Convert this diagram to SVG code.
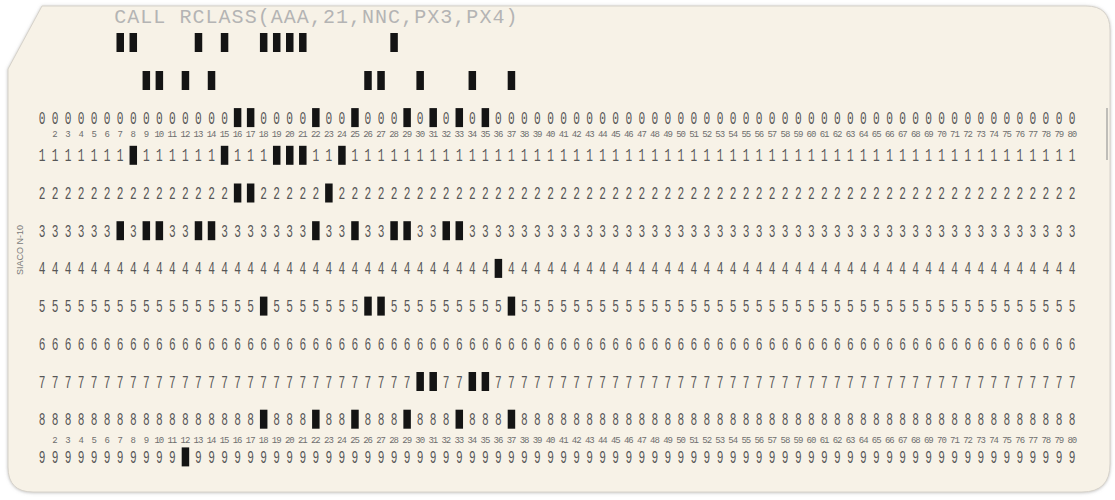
<svg xmlns="http://www.w3.org/2000/svg" width="1115" height="500" viewBox="0 0 1115 500">
<defs>
<style>
.d{font-family:"Liberation Mono","DejaVu Sans Mono",monospace;font-size:18px;letter-spacing:10.232px;fill:#575757;}
.n{font-family:"Liberation Mono","DejaVu Sans Mono",monospace;font-size:9px;letter-spacing:-1.0533px;fill:#6e6e6e;}
.t{font-family:"Liberation Mono","DejaVu Sans Mono",monospace;font-size:20px;letter-spacing:1.04px;fill:#b4b4b4;}
.s{font-family:"Liberation Sans","DejaVu Sans",sans-serif;font-size:9px;fill:#7a7a7a;}
.p{fill:#141414;}
</style>
<filter id="sh" x="-5%" y="-5%" width="110%" height="110%">
<feDropShadow dx="0" dy="0.5" stdDeviation="1.5" flood-color="#8c8c8c" flood-opacity="0.55"/>
</filter>
<rect id="h" class="p" x="-3.75" y="-9.5" width="7.5" height="19"/>
</defs>
<rect width="1115" height="500" fill="#ffffff"/>
<g id="card">
<path d="M42,6 L1086,6 Q1110,6 1110,30 L1110,464 Q1110,492 1082,492 L33,492 Q8,492 8,467 L8,69 Z" fill="#f7f2e7" stroke="#d6d2ca" stroke-width="1" filter="url(#sh)"/>
<rect x="1106" y="108" width="2" height="52" fill="#9a9a9a" opacity="0.6"/>
<text class="s" transform="translate(22.5,250) rotate(-90)" text-anchor="middle">SIACO N-10</text>
</g>
<g id="print-line">
<text class="t" x="114.24" y="23" xml:space="preserve">CALL RCLASS(AAA,21,NNC,PX3,PX4)</text>
</g>
<g id="digit-rows">
<text class="d" xml:space="preserve" transform="translate(0,123.6) scale(0.62,1)" x="62.34"><tspan>0000000000</tspan><tspan>00000  000</tspan><tspan>0 00 000 0</tspan><tspan> 0 0 00000</tspan><tspan>0000000000</tspan><tspan>0000000000</tspan><tspan>0000000000</tspan><tspan>0000000000</tspan></text>
<text class="d" xml:space="preserve" transform="translate(0,161.3) scale(0.62,1)" x="62.34"><tspan>1111111 11</tspan><tspan>1111 111  </tspan><tspan> 11 111111</tspan><tspan>1111111111</tspan><tspan>1111111111</tspan><tspan>1111111111</tspan><tspan>1111111111</tspan><tspan>1111111111</tspan></text>
<text class="d" xml:space="preserve" transform="translate(0,199.0) scale(0.62,1)" x="62.34"><tspan>2222222222</tspan><tspan>22222  222</tspan><tspan>22 2222222</tspan><tspan>2222222222</tspan><tspan>2222222222</tspan><tspan>2222222222</tspan><tspan>2222222222</tspan><tspan>2222222222</tspan></text>
<text class="d" xml:space="preserve" transform="translate(0,236.7) scale(0.62,1)" x="62.34"><tspan>333333 3  </tspan><tspan>33  333333</tspan><tspan>3 33 33  3</tspan><tspan>3  3333333</tspan><tspan>3333333333</tspan><tspan>3333333333</tspan><tspan>3333333333</tspan><tspan>3333333333</tspan></text>
<text class="d" xml:space="preserve" transform="translate(0,274.4) scale(0.62,1)" x="62.34"><tspan>4444444444</tspan><tspan>4444444444</tspan><tspan>4444444444</tspan><tspan>44444 4444</tspan><tspan>4444444444</tspan><tspan>4444444444</tspan><tspan>4444444444</tspan><tspan>4444444444</tspan></text>
<text class="d" xml:space="preserve" transform="translate(0,312.1) scale(0.62,1)" x="62.34"><tspan>5555555555</tspan><tspan>5555555 55</tspan><tspan>55555  555</tspan><tspan>555555 555</tspan><tspan>5555555555</tspan><tspan>5555555555</tspan><tspan>5555555555</tspan><tspan>5555555555</tspan></text>
<text class="d" xml:space="preserve" transform="translate(0,349.8) scale(0.62,1)" x="62.34"><tspan>6666666666</tspan><tspan>6666666666</tspan><tspan>6666666666</tspan><tspan>6666666666</tspan><tspan>6666666666</tspan><tspan>6666666666</tspan><tspan>6666666666</tspan><tspan>6666666666</tspan></text>
<text class="d" xml:space="preserve" transform="translate(0,387.5) scale(0.62,1)" x="62.34"><tspan>7777777777</tspan><tspan>7777777777</tspan><tspan>777777777 </tspan><tspan> 77  77777</tspan><tspan>7777777777</tspan><tspan>7777777777</tspan><tspan>7777777777</tspan><tspan>7777777777</tspan></text>
<text class="d" xml:space="preserve" transform="translate(0,425.2) scale(0.62,1)" x="62.34"><tspan>8888888888</tspan><tspan>8888888 88</tspan><tspan>8 88 888 8</tspan><tspan>88 888 888</tspan><tspan>8888888888</tspan><tspan>8888888888</tspan><tspan>8888888888</tspan><tspan>8888888888</tspan></text>
<text class="d" xml:space="preserve" transform="translate(0,462.9) scale(0.62,1)" x="62.34"><tspan>9999999999</tspan><tspan>9 99999999</tspan><tspan>9999999999</tspan><tspan>9999999999</tspan><tspan>9999999999</tspan><tspan>9999999999</tspan><tspan>9999999999</tspan><tspan>9999999999</tspan></text>
</g>
<g id="column-numbers">
<text class="n" xml:space="preserve" x="52.34" y="136.5">2  3  4  5  6  7  8  9</text>
<text class="n" xml:space="preserve" x="154.49" y="136.5">10 11 12 13 14 15 16 17 18 19 20 21 22 23 24 25 26 27 28 29 30 31 32 33 34 35 36 37 38 39 40 41 42 43 44 45 46 47 48 49 50 51 52 53 54 55 56 57 58 59 60 61 62 63 64 65 66 67 68 69 70 71 72 73 74 75 76 77 78 79 80</text>
<text class="n" xml:space="preserve" x="52.34" y="442.7">2  3  4  5  6  7  8  9</text>
<text class="n" xml:space="preserve" x="154.49" y="442.7">10 11 12 13 14 15 16 17 18 19 20 21 22 23 24 25 26 27 28 29 30 31 32 33 34 35 36 37 38 39 40 41 42 43 44 45 46 47 48 49 50 51 52 53 54 55 56 57 58 59 60 61 62 63 64 65 66 67 68 69 70 71 72 73 74 75 76 77 78 79 80</text>
</g>
<g id="punches">
<g id="row-12">
<use href="#h" x="120.24" y="42.5"/><use href="#h" x="133.28" y="42.5"/><use href="#h" x="198.48" y="42.5"/><use href="#h" x="224.56" y="42.5"/><use href="#h" x="263.68" y="42.5"/><use href="#h" x="276.72" y="42.5"/><use href="#h" x="289.76" y="42.5"/><use href="#h" x="302.8" y="42.5"/><use href="#h" x="394.08" y="42.5"/>
</g>
<g id="row-11">
<use href="#h" x="146.32" y="80.5"/><use href="#h" x="159.36" y="80.5"/><use href="#h" x="185.44" y="80.5"/><use href="#h" x="211.52" y="80.5"/><use href="#h" x="368" y="80.5"/><use href="#h" x="381.04" y="80.5"/><use href="#h" x="420.16" y="80.5"/><use href="#h" x="472.32" y="80.5"/><use href="#h" x="511.44" y="80.5"/>
</g>
<g id="row-0">
<use href="#h" x="237.6" y="117.6"/><use href="#h" x="250.64" y="117.6"/><use href="#h" x="315.84" y="117.6"/><use href="#h" x="354.96" y="117.6"/><use href="#h" x="407.12" y="117.6"/><use href="#h" x="433.2" y="117.6"/><use href="#h" x="459.28" y="117.6"/><use href="#h" x="485.36" y="117.6"/>
</g>
<g id="row-1">
<use href="#h" x="133.28" y="155.3"/><use href="#h" x="224.56" y="155.3"/><use href="#h" x="276.72" y="155.3"/><use href="#h" x="289.76" y="155.3"/><use href="#h" x="302.8" y="155.3"/><use href="#h" x="341.92" y="155.3"/>
</g>
<g id="row-2">
<use href="#h" x="237.6" y="193"/><use href="#h" x="250.64" y="193"/><use href="#h" x="328.88" y="193"/>
</g>
<g id="row-3">
<use href="#h" x="120.24" y="230.7"/><use href="#h" x="146.32" y="230.7"/><use href="#h" x="159.36" y="230.7"/><use href="#h" x="198.48" y="230.7"/><use href="#h" x="211.52" y="230.7"/><use href="#h" x="315.84" y="230.7"/><use href="#h" x="354.96" y="230.7"/><use href="#h" x="394.08" y="230.7"/><use href="#h" x="407.12" y="230.7"/><use href="#h" x="446.24" y="230.7"/><use href="#h" x="459.28" y="230.7"/>
</g>
<g id="row-4">
<use href="#h" x="498.4" y="268.4"/>
</g>
<g id="row-5">
<use href="#h" x="263.68" y="306.1"/><use href="#h" x="368" y="306.1"/><use href="#h" x="381.04" y="306.1"/><use href="#h" x="511.44" y="306.1"/>
</g>
<g id="row-7">
<use href="#h" x="420.16" y="381.5"/><use href="#h" x="433.2" y="381.5"/><use href="#h" x="472.32" y="381.5"/><use href="#h" x="485.36" y="381.5"/>
</g>
<g id="row-8">
<use href="#h" x="263.68" y="419.2"/><use href="#h" x="315.84" y="419.2"/><use href="#h" x="354.96" y="419.2"/><use href="#h" x="407.12" y="419.2"/><use href="#h" x="459.28" y="419.2"/><use href="#h" x="511.44" y="419.2"/>
</g>
<g id="row-9">
<use href="#h" x="185.44" y="456.9"/>
</g>
</g>
</svg>
